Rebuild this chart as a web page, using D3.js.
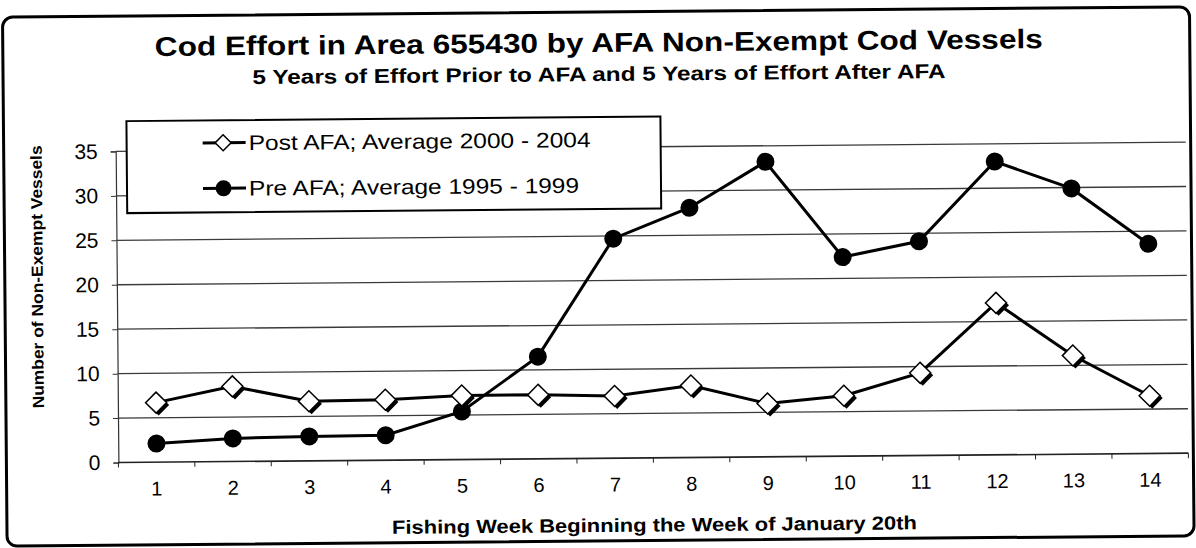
<!DOCTYPE html>
<html>
<head>
<meta charset="utf-8">
<script src="https://cdn.jsdelivr.net/npm/d3@7"></script>
<style>
  body { margin: 0; background: #fff; }
  svg { display: block; font-family: "Liberation Sans", Arial, sans-serif; }
</style>
</head>
<body>
<div id="chart"></div>
<script>
// data
var weeks = [1, 2, 3, 4, 5, 6, 7, 8, 9, 10, 11, 12, 13, 14];
var postAFA = [6.7, 8.45, 6.7, 6.8, 7.2, 7.2, 7.0, 8.1, 6.0, 6.8, 9.3, 17.1, 11.1, 6.5];
var preAFA = [2.1, 2.6, 2.75, 2.8, 5.4, 11.5, 24.7, 28.1, 33.2, 22.4, 24.1, 33.0, 29.9, 23.6];
var yTicks = [0, 5, 10, 15, 20, 25, 30, 35];
var seriesNames = ["Post AFA; Average 2000 - 2004", "Pre AFA; Average 1995 - 1999"];

var width = 1196, height = 548;
var plot = {left: 117, right: 1187, top: 147.2, bottom: 458.3};

var root = d3.select("#chart").append("svg")
    .attr("width", width)
    .attr("height", height);

// the scanned original sits slightly askew
var svg = root.append("g").attr("transform", "rotate(-0.5,600,300)");

// outer frame
svg.append("rect")
    .attr("x", 5).attr("y", 12)
    .attr("width", 1187).attr("height", 529)
    .attr("rx", 10)
    .attr("fill", "none")
    .attr("stroke", "#000")
    .attr("stroke-width", 3);

var x = d3.scaleBand().domain(weeks).range([plot.left, plot.right]);
var y = d3.scaleLinear().domain([0, 35]).range([plot.bottom, plot.top]);

// gridlines
svg.append("g")
    .selectAll("line")
    .data(yTicks.filter(function(d) { return d > 0; }))
    .enter().append("line")
    .attr("x1", plot.left).attr("x2", plot.right)
    .attr("y1", function(d) { return y(d); })
    .attr("y2", function(d) { return y(d); })
    .attr("stroke", "#3a3a3a")
    .attr("stroke-width", 1.3);

// y axis
var yAxis = svg.append("g")
    .attr("transform", "translate(" + plot.left + ",0)")
    .call(d3.axisLeft(y).tickValues(yTicks).tickSize(5).tickPadding(13));
yAxis.select(".domain").attr("stroke", "#333").attr("stroke-width", 1.2);
yAxis.selectAll(".tick line").attr("stroke", "#333");
yAxis.selectAll("text")
    .attr("font-family", "Liberation Sans, Arial, sans-serif")
    .attr("font-size", 21).attr("fill", "#000");

// x axis: ticks on category boundaries
var xAxisG = svg.append("g");
xAxisG.append("line")
    .attr("x1", plot.left).attr("x2", plot.right)
    .attr("y1", plot.bottom).attr("y2", plot.bottom)
    .attr("stroke", "#222").attr("stroke-width", 1.6);
xAxisG.selectAll(".bound")
    .data(weeks.concat([15]))
    .enter().append("line")
    .attr("class", "bound")
    .attr("x1", function(d, i) { return plot.left + i * x.bandwidth(); })
    .attr("x2", function(d, i) { return plot.left + i * x.bandwidth(); })
    .attr("y1", plot.bottom).attr("y2", plot.bottom + 5)
    .attr("stroke", "#222");
xAxisG.selectAll(".lbl")
    .data(weeks)
    .enter().append("text")
    .attr("class", "lbl")
    .attr("x", function(d) { return x(d) + x.bandwidth() / 2; })
    .attr("y", 491.5)
    .attr("text-anchor", "middle")
    .attr("font-size", 20)
    .text(function(d) { return d; });

// lines
var line = d3.line()
    .x(function(d, i) { return x(weeks[i]) + x.bandwidth() / 2; })
    .y(function(d) { return y(d); });

[postAFA, preAFA].forEach(function(s) {
    svg.append("path")
        .datum(s)
        .attr("d", line)
        .attr("fill", "none")
        .attr("stroke", "#000")
        .attr("stroke-width", 3);
});

function diamond(g, cx, cy, r, shadow) {
    var pts = [[0, -r], [r, 0], [0, r], [-r, 0]];
    if (shadow) {
        var ps = pts.map(function(q) { return (cx + q[0] + 2.5) + "," + (cy + q[1] + 2.5); }).join(" ");
        g.append("polygon").attr("points", ps).attr("fill", "#000");
    }
    var p = pts.map(function(q) { return (cx + q[0]) + "," + (cy + q[1]); }).join(" ");
    g.append("polygon").attr("points", p)
        .attr("fill", "#fff").attr("stroke", "#000").attr("stroke-width", 1.5);
}

// markers
var preG = svg.append("g");
preG.selectAll("circle")
    .data(preAFA)
    .enter().append("circle")
    .attr("cx", function(d, i) { return x(weeks[i]) + x.bandwidth() / 2; })
    .attr("cy", function(d) { return y(d); })
    .attr("r", 9)
    .attr("fill", "#000");

var postG = svg.append("g");
postAFA.forEach(function(d, i) {
    diamond(postG, x(weeks[i]) + x.bandwidth() / 2, y(d), 10.5, true);
});

// legend
var leg = svg.append("g");
leg.append("rect")
    .attr("x", 128).attr("y", 117)
    .attr("width", 534).attr("height", 92)
    .attr("fill", "#fff")
    .attr("stroke", "#000").attr("stroke-width", 2);
var legY = [139.5, 185];
var legLen = [342, 330];
seriesNames.forEach(function(name, i) {
    leg.append("line")
        .attr("x1", 204).attr("x2", 247)
        .attr("y1", legY[i]).attr("y2", legY[i])
        .attr("stroke", "#000").attr("stroke-width", 3);
    if (i === 0) {
        diamond(leg, 224.5, legY[i], 8, false);
    } else {
        leg.append("circle").attr("cx", 224.5).attr("cy", legY[i]).attr("r", 8).attr("fill", "#000");
    }
    leg.append("text")
        .attr("x", 250).attr("y", legY[i] + 7.5)
        .attr("font-size", 21)
        .attr("textLength", legLen[i]).attr("lengthAdjust", "spacingAndGlyphs")
        .text(name);
});

// titles
svg.append("text")
    .attr("x", 601).attr("y", 52)
    .attr("text-anchor", "middle")
    .attr("font-size", 27).attr("font-weight", "bold")
    .attr("textLength", 888).attr("lengthAdjust", "spacingAndGlyphs")
    .text("Cod Effort in Area 655430 by AFA Non-Exempt Cod Vessels");
svg.append("text")
    .attr("x", 601).attr("y", 81)
    .attr("text-anchor", "middle")
    .attr("font-size", 20).attr("font-weight", "bold")
    .attr("textLength", 693).attr("lengthAdjust", "spacingAndGlyphs")
    .text("5 Years of Effort Prior to AFA and 5 Years of Effort After AFA");

// axis titles
svg.append("text")
    .attr("transform", "translate(43,272) rotate(-90)")
    .attr("text-anchor", "middle")
    .attr("font-size", 16).attr("font-weight", "bold")
    .attr("textLength", 263).attr("lengthAdjust", "spacingAndGlyphs")
    .text("Number of Non-Exempt Vessels");
svg.append("text")
    .attr("x", 652.5).attr("y", 532)
    .attr("text-anchor", "middle")
    .attr("font-size", 19).attr("font-weight", "bold")
    .attr("textLength", 525).attr("lengthAdjust", "spacingAndGlyphs")
    .text("Fishing Week Beginning the Week of January 20th");
</script>
</body>
</html>
